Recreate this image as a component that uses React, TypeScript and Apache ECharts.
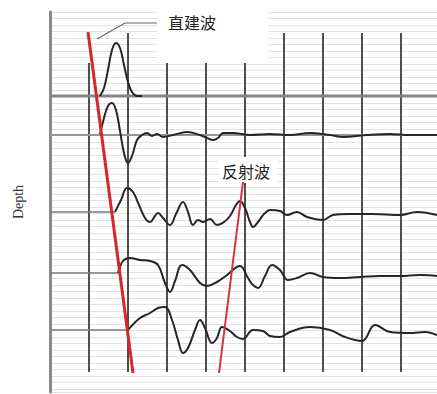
import React, { useEffect, useRef } from 'react';
import * as echarts from 'echarts';

// time axis in samples (one grid division = 39 samples), depth axis in depth units
const timeMax = 387;
const depthMax = 380;

const traceBaselines = [84, 123, 200, 261, 318];

const trace1Time = [50, 54, 58, 62, 66, 70, 74, 78, 82, 87, 92];
const trace1Amp = [0, 8, 26, 46, 53, 48, 31, 14, 4, 0, 0];

const trace2Time = [50, 54, 58, 62, 66, 70, 74, 78, 82, 87, 92, 97, 102, 107, 113, 123, 137, 150, 157, 163, 168, 173, 183, 200, 220, 240, 260, 280, 293, 317, 340, 360, 387];
const trace2Amp = [1, 17, 29, 32, 25, 4, -18, -28, -21, -5, 0, 2, -1, 1, -2, 0, 3, 0, -3, -5, -3, 2, 2, 0, 1, 0, 2, 0, -2, 0, 1, 0, 0];

const trace3Time = [65, 71, 77, 83, 89, 95, 100, 105, 108, 113, 120, 126, 133, 138, 143, 148, 153, 160, 167, 174, 180, 186, 190, 195, 200, 203, 208, 214, 220, 230, 237, 247, 257, 273, 283, 300, 323, 350, 367, 387];
const trace3Amp = [0, 12, 24, 20, 7, -6, -10, -4, -1, -6, -13, -2, 10, 0, -13, -8, -10, -7, -13, -10, -4, 7, 11, 4, -10, -15, -10, -2, 2, 1, -3, 0, -5, -8, -3, -2, -2, -3, 0, -3];

const trace4Time = [68, 73, 80, 90, 100, 108, 115, 120, 125, 132, 140, 150, 157, 167, 177, 190, 198, 203, 208, 215, 222, 230, 238, 247, 260, 273, 290, 310, 330, 350, 370, 387];
const trace4Amp = [0, 12, 15, 13, 12, 8, -10, -19, -8, 8, 3, -10, -13, -9, -2, 7, -5, -12, -15, -3, 8, 3, -7, -5, 0, -4, -5, -4, -3, -3, -2, -3];

const trace5Time = [78, 90, 100, 108, 115, 122, 128, 133, 138, 145, 150, 155, 162, 167, 172, 180, 187, 193, 203, 213, 220, 230, 240, 260, 280, 295, 312, 325, 340, 360, 375, 387];
const trace5Amp = [0, 12, 17, 22, 23, 10, -10, -23, -18, 0, 10, 2, -13, -8, 3, -1, -7, -9, 0, -1, -6, -7, -2, 3, 0, -7, -11, 5, -2, -3, -2, -5];

const gridLineTimes = [39, 78, 117, 156, 195, 234, 273, 312, 351];
const gridLineTops = [51, 21, 51, 51, 51, 21, 21, 21, 21];
const gridLineBottom = 360;

const directWaveTime = [38, 83];
const directWaveDepth = [20, 361];
const reflectedWaveTime = [193, 169];
const reflectedWaveDepth = [170, 361];

const traceTimes = [trace1Time, trace2Time, trace3Time, trace4Time, trace5Time];
const traceAmps = [trace1Amp, trace2Amp, trace3Amp, trace4Amp, trace5Amp];

export default function App() {
  const ref = useRef<HTMLDivElement>(null);

  useEffect(() => {
    if (!ref.current) return;
    const chart = echarts.init(ref.current, undefined, { renderer: 'svg' });

    const baselineSeries: any[] = traceBaselines.map((b, i) => {
      const full = i < 2;
      const endT = full ? timeMax : traceTimes[i][0];
      return {
        type: 'line',
        z: 4,
        silent: true,
        showSymbol: false,
        data: [[0, b], [endT, b]],
        lineStyle: {
          color: i === 0 ? '#858585' : i === 1 ? '#959595' : '#7a7a7a',
          width: i === 0 ? 3 : i === 1 ? 2.2 : 1.5,
        },
      };
    });

    const waveSeries: any[] = traceTimes.map((ts, i) => ({
      type: 'line',
      z: 6,
      silent: true,
      showSymbol: false,
      smooth: 0.4,
      data: ts.map((t, k) => [t, traceBaselines[i] - traceAmps[i][k]]),
      lineStyle: { color: '#262626', width: 2 },
    }));

    const option: any = {
      animation: false,
      backgroundColor: '#ffffff',
      grid: { left: 50, right: 0, top: 12, bottom: 2 },
      xAxis: { type: 'value', min: 0, max: timeMax, show: false },
      yAxis: {
        type: 'value',
        min: 0,
        max: depthMax,
        interval: 6.5,
        inverse: true,
        offset: 2,
        name: 'Depth',
        nameLocation: 'middle',
        nameGap: 23,
        nameRotate: 90,
        nameTextStyle: { fontFamily: 'Liberation Serif', fontSize: 14, color: '#333' },
        axisLine: { show: true, lineStyle: { color: '#8a8a8a', width: 3 } },
        axisTick: { show: false },
        axisLabel: { show: false },
        splitLine: { show: true, lineStyle: { color: '#e2e2e2', width: 1 } },
      },
      series: [
        {
          type: 'custom',
          z: 3,
          silent: true,
          data: gridLineTimes.map((t, i) => [t, gridLineTops[i], gridLineBottom]),
          renderItem: (params: any, api: any) => {
            const p1 = api.coord([api.value(0), api.value(1)]);
            const p2 = api.coord([api.value(0), api.value(2)]);
            return {
              type: 'line',
              shape: { x1: p1[0], y1: p1[1], x2: p2[0], y2: p2[1] },
              style: { stroke: '#4f4f4f', lineWidth: 2 },
            };
          },
        },
        ...baselineSeries,
        ...waveSeries,
        {
          type: 'line',
          z: 7,
          silent: true,
          showSymbol: false,
          data: directWaveTime.map((t, k) => [t, directWaveDepth[k]]),
          lineStyle: { color: '#d8262d', width: 3 },
        },
        {
          type: 'line',
          z: 7,
          silent: true,
          showSymbol: false,
          data: reflectedWaveTime.map((t, k) => [t, reflectedWaveDepth[k]]),
          lineStyle: { color: '#d8323a', width: 2 },
        },
      ],
      graphic: [
        { type: 'rect', z: 5, shape: { x: 157, y: 0, width: 111, height: 62 }, style: { fill: '#ffffff' } },
        { type: 'rect', z: 5, shape: { x: 218, y: 157, width: 60, height: 26 }, style: { fill: '#ffffff' } },
        {
          type: 'polyline',
          z: 8,
          shape: { points: [[97, 39], [125, 23], [157, 23]] },
          style: { stroke: '#666666', lineWidth: 1.2, fill: null },
        },
        {
          type: 'text',
          z: 8,
          x: 168,
          y: 22,
          style: { text: '直建波', fontSize: 16, fontFamily: 'Noto Sans CJK SC', fill: '#222', verticalAlign: 'middle' },
        },
        {
          type: 'text',
          z: 8,
          x: 222,
          y: 171,
          style: { text: '反射波', fontSize: 16, fontFamily: 'Noto Sans CJK SC', fill: '#222', verticalAlign: 'middle' },
        },
      ],
    };

    chart.setOption(option);
    return () => chart.dispose();
  }, []);

  return (
    <div
      ref={ref}
      style={{ position: 'fixed', left: 0, top: 0, width: 437, height: 394, background: '#fff' }}
    />
  );
}
